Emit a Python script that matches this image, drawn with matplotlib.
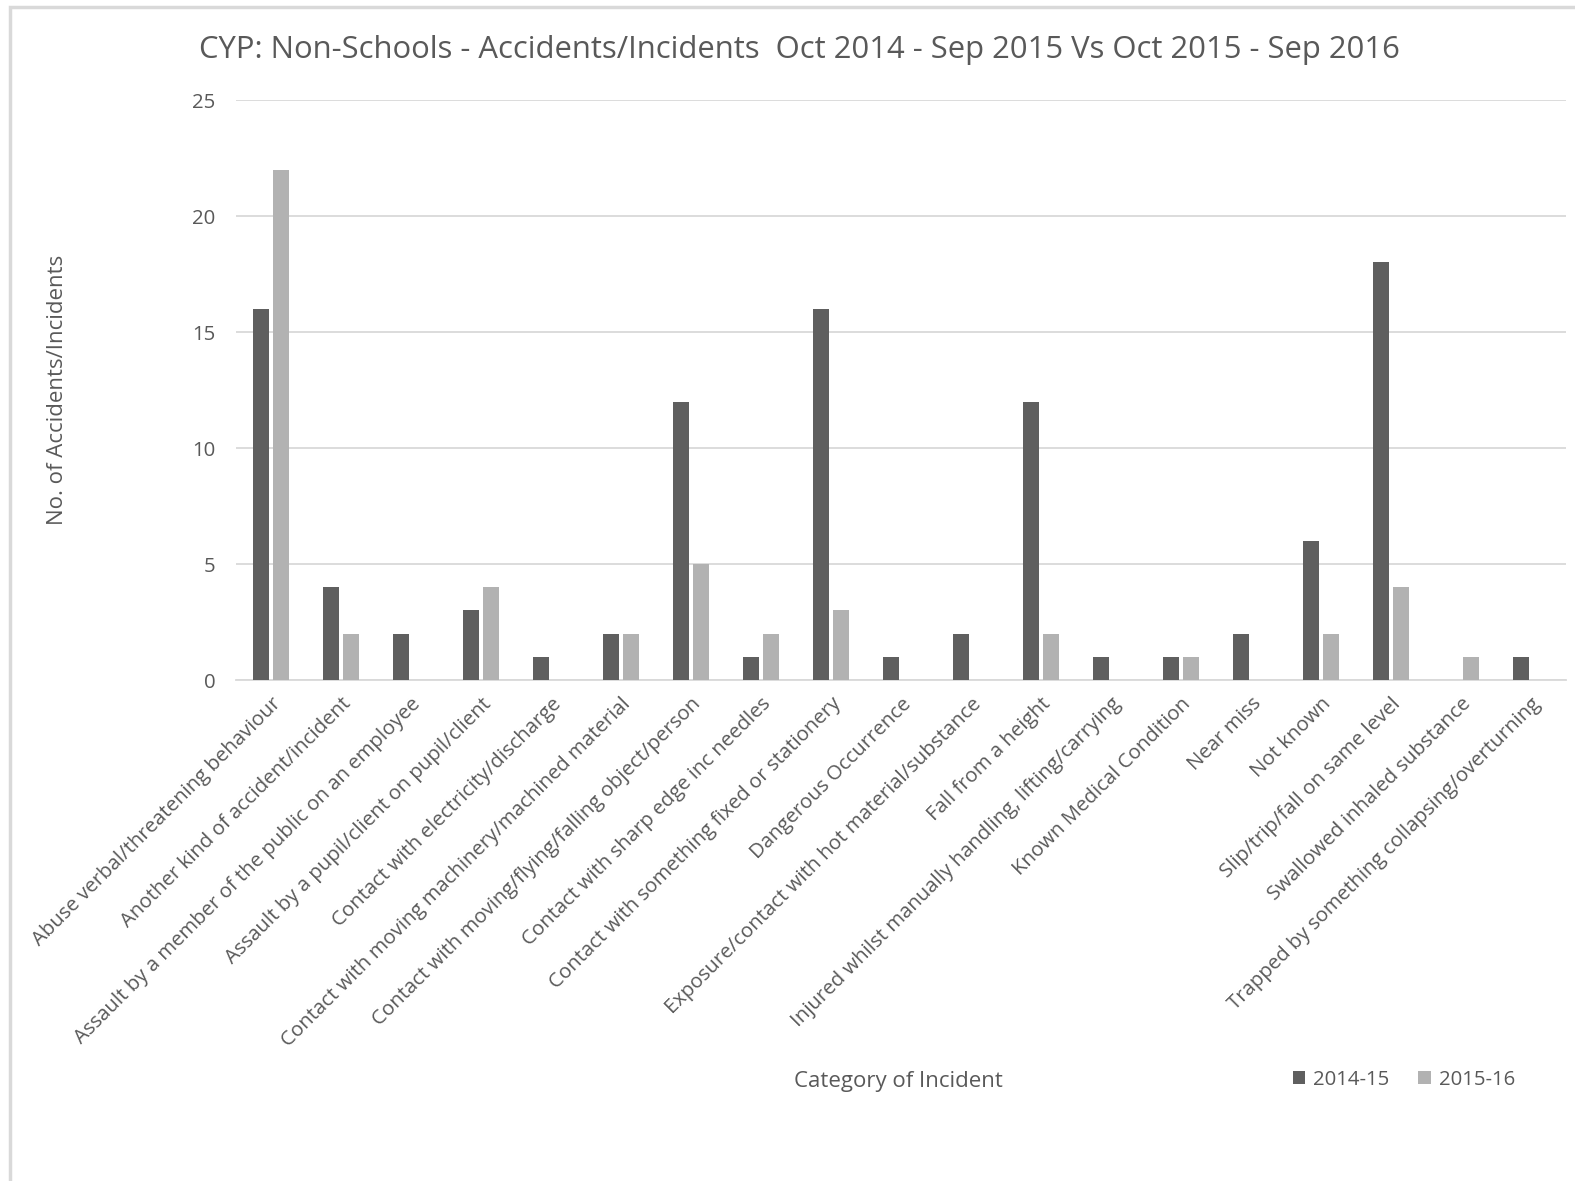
import numpy as np
import matplotlib
matplotlib.use('Agg')
import matplotlib.pyplot as plt
from matplotlib.patches import Rectangle

plt.rcParams['font.family'] = ['Open Sans', 'DejaVu Sans']

categories = ['Abuse verbal/threatening behaviour',
              'Another kind of accident/incident',
              'Assault by a member of the public on an employee',
              'Assault by a pupil/client on pupil/client',
              'Contact with electricity/discharge',
              'Contact with moving machinery/machined material',
              'Contact with moving/flying/falling object/person',
              'Contact with sharp edge inc needles',
              'Contact with something fixed or stationery',
              'Dangerous Occurrence',
              'Exposure/contact with hot material/substance',
              'Fall from a height',
              'Injured whilst manually handling, lifting/carrying',
              'Known Medical Condition',
              'Near miss',
              'Not known',
              'Slip/trip/fall on same level',
              'Swallowed inhaled substance',
              'Trapped by something collapsing/overturning']
y2014_15 = [16, 4, 2, 3, 1, 2, 12, 1, 16, 1, 2, 12, 1, 1, 2, 6, 18, 0, 1]
y2015_16 = [22, 2, 0, 4, 0, 2, 5, 2, 3, 0, 0, 2, 0, 1, 0, 2, 4, 1, 0]
yticks = [0, 5, 10, 15, 20, 25]

txt = '#595959'
dark = '#5f5f5f'
light = '#b2b2b2'
grid = '#d9d9d9'

fig = plt.figure(figsize=(15.75, 11.81), dpi=100)
# outer chart frame (cut off at right and bottom like the screenshot)
fig.patches.append(Rectangle((10/1575, -0.1), 1.2, 1 - 7/1181 + 0.1,
                             transform=fig.transFigure, fill=False,
                             edgecolor='#d9d9d9', linewidth=2.5))

ax = fig.add_axes([236/1575, 1 - 680/1181, 1330/1575, 580/1181])
x = np.arange(len(categories))
w = 0.23
ax.bar(x - 0.143, y2014_15, w, color=dark, label='2014-15', zorder=3)
ax.bar(x + 0.143, y2015_16, w, color=light, label='2015-16', zorder=3)

ax.set_xlim(-0.5, len(categories) - 0.5)
ax.set_ylim(0, 25)
ax.set_yticks(yticks)
ax.yaxis.grid(True, color=grid, linewidth=1.3, zorder=0)
for s in ['top', 'right', 'left']:
    ax.spines[s].set_visible(False)
ax.spines['bottom'].set_color(grid)
ax.spines['bottom'].set_linewidth(1.3)
ax.tick_params(axis='both', length=0, colors=txt, labelsize=14.7)
ax.tick_params(axis='y', pad=15)
ax.set_xticks(x)
ax.set_xticklabels(categories, rotation=45, ha='right', rotation_mode='anchor')
ax.tick_params(axis='x', pad=10)

fig.text(799/1575, 1 - 50/1181, 'CYP: Non-Schools - Accidents/Incidents  Oct 2014 - Sep 2015 Vs Oct 2015 - Sep 2016',
         ha='center', va='center', fontsize=22.3, color=txt)
fig.text(58/1575, 1 - 390/1181, 'No. of Accidents/Incidents', rotation=90,
         ha='center', va='center', fontsize=16, color=txt)
fig.text(898/1575, 1 - 1082/1181, 'Category of Incident',
         ha='center', va='center', fontsize=16, color=txt)

ax.legend(loc='center', bbox_to_anchor=(1404/1575, 1 - 1080/1181),
          bbox_transform=fig.transFigure, ncol=2, frameon=False,
          fontsize=14.7, labelcolor=txt, handlelength=0.6, handleheight=0.6,
          handletextpad=0.4, columnspacing=1.4)

fig.savefig('out.png', dpi=100)
